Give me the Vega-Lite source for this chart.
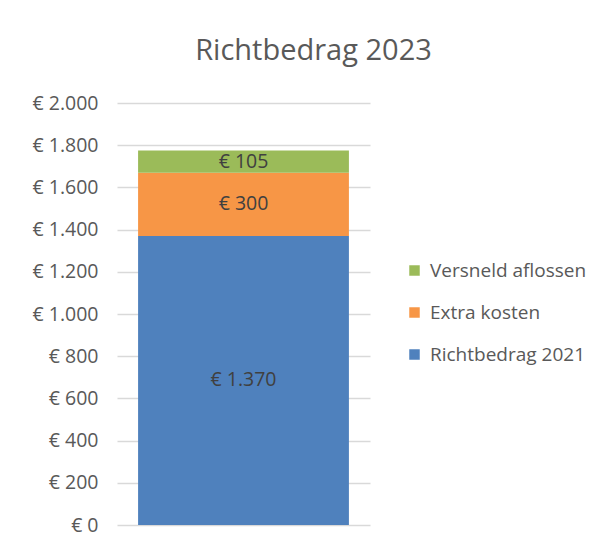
{
  "$schema": "https://vega.github.io/schema/vega-lite/v6.json",
  "autosize": {"type": "none"},
  "width": 253,
  "height": 422,
  "padding": {"left": 117, "top": 103, "right": 240, "bottom": 17},
  "background": "white",
  "config": {"view": {"stroke": null}},
  "title": {
    "text": "Richtbedrag 2023",
    "font": "Open Sans",
    "fontSize": 29,
    "fontWeight": "normal",
    "color": "#595959",
    "anchor": "middle",
    "dx": 70,
    "offset": 27
  },
  "data": {
    "values": [
      {"reeks": "Richtbedrag 2021", "reeksnr": 1, "categorie": "2023", "bedrag": 1370},
      {"reeks": "Extra kosten", "reeksnr": 2, "categorie": "2023", "bedrag": 300},
      {"reeks": "Versneld aflossen", "reeksnr": 3, "categorie": "2023", "bedrag": 105}
    ]
  },
  "transform": [
    {"stack": "bedrag", "groupby": ["categorie"], "sort": [{"field": "reeksnr", "order": "ascending"}], "as": ["y0", "y1"]},
    {"calculate": "(datum.y0 + datum.y1) / 2", "as": "midden"}
  ],
  "encoding": {
    "x": {"field": "categorie", "type": "nominal", "axis": null, "scale": {"paddingInner": 0, "paddingOuter": 0.1}}
  },
  "layer": [
    {
      "mark": {"type": "bar"},
      "encoding": {
        "y": {
          "field": "y0", "type": "quantitative",
          "scale": {"domain": [0, 2000], "nice": false},
          "axis": {
            "values": [0, 200, 400, 600, 800, 1000, 1200, 1400, 1600, 1800, 2000],
            "labelExpr": "'€ ' + replace(format(datum.value, ',d'), ',', '.')",
            "title": null,
            "domain": false,
            "ticks": false,
            "labelPadding": 19,
            "labelFont": "Open Sans",
            "labelFontSize": 19.5,
            "labelColor": "#595959",
            "gridColor": "#D9D9D9",
            "gridWidth": 1.5
          }
        },
        "y2": {"field": "y1"},
        "color": {
          "field": "reeks", "type": "nominal",
          "scale": {
            "domain": ["Versneld aflossen", "Extra kosten", "Richtbedrag 2021"],
            "range": ["#9BBB59", "#F79646", "#4F81BD"]
          },
          "legend": {
            "title": null,
            "orient": "none",
            "legendX": 288,
            "legendY": 158,
            "symbolType": "square",
            "symbolSize": 110,
            "symbolStrokeWidth": 0,
            "labelFont": "Open Sans",
            "labelFontSize": 19,
            "labelColor": "#595959",
            "labelOffset": 6,
            "rowPadding": 22
          }
        }
      }
    },
    {
      "mark": {
        "type": "text",
        "font": "Open Sans",
        "fontSize": 19.5,
        "color": "#404040",
        "baseline": "middle",
        "text": {"expr": "'€ ' + replace(format(datum.bedrag, ',d'), ',', '.')"}
      },
      "encoding": {
        "y": {"field": "midden", "type": "quantitative"}
      }
    }
  ]
}
